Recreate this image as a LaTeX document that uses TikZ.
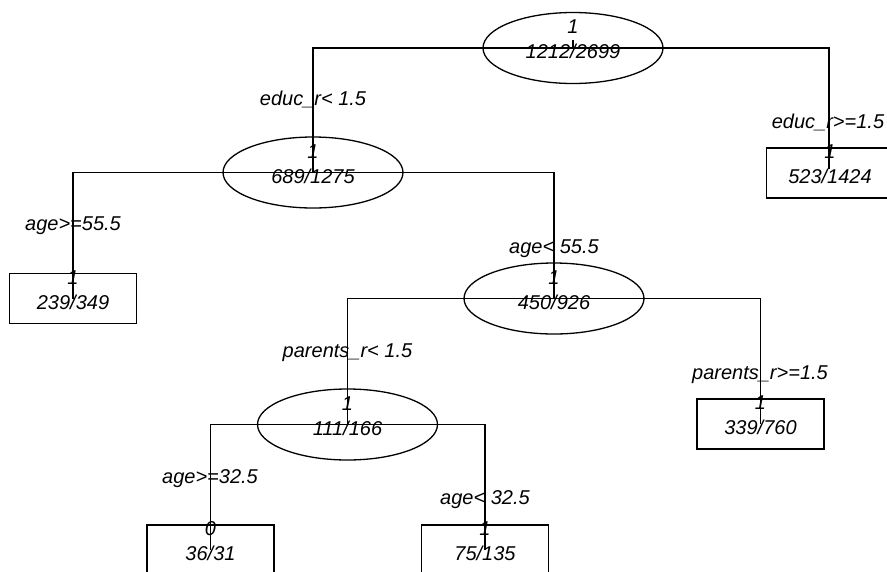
\documentclass[tikz,border=0pt]{standalone}
\usepackage{fontspec}
\setmainfont{Liberation Sans}
\usetikzlibrary{shapes.geometric,calc}
\begin{document}
\begin{tikzpicture}[x=1pt,y=-1pt,
  line width=1.3pt,
  ell/.style={draw,ellipse,inner sep=0pt,minimum width=180pt,minimum height=71pt},
  leafbox/.style={draw,rectangle,inner sep=0pt,minimum width=127pt,minimum height=50pt},
  txt/.style={inner sep=0pt,text height=14pt,text depth=0pt,anchor=center,
    font=\fontsize{20}{24}\selectfont\itshape},
  conn/.style={line width=1.3pt}]
\useasboundingbox (0,0) rectangle (887,571);
\fill[white] (0,0) rectangle (887,571);
\clip (0,0) rectangle (887,571);
% nodes
\node[ell] (root) at (573,48) {};
\node[ell] (n2) at (313,172.5) {};
\node[ell] (n3) at (554,298.5) {};
\node[ell] (n4) at (347.5,424.5) {};
\node[leafbox] (lR) at (830,173) {};
\node[leafbox] (lA) at (73,298.5) {};
\node[leafbox] (lP) at (760.5,424) {};
\node[leafbox] (lB1) at (210.5,550) {};
\node[leafbox] (lB2) at (485,550) {};
% node texts
\node[txt] (root-c) at ($(root.center)+(0,-21.5)$) {1};
\node[txt] (root-v) at ($(root.center)+(0,3.5)$) {1212/2699};
\node[txt] (n2-c) at ($(n2.center)+(0,-21.5)$) {1};
\node[txt] (n2-v) at ($(n2.center)+(0,3.5)$) {689/1275};
\node[txt] (n3-c) at ($(n3.center)+(0,-21.5)$) {1};
\node[txt] (n3-v) at ($(n3.center)+(0,3.5)$) {450/926};
\node[txt] (n4-c) at ($(n4.center)+(0,-21.5)$) {1};
\node[txt] (n4-v) at ($(n4.center)+(0,3.5)$) {111/166};
\node[txt] (lR-c) at ($(lR.center)+(0,-21.5)$) {1};
\node[txt] (lR-v) at ($(lR.center)+(0,3.5)$) {523/1424};
\node[txt] (lA-c) at ($(lA.center)+(0,-21.5)$) {1};
\node[txt] (lA-v) at ($(lA.center)+(0,3.5)$) {239/349};
\node[txt] (lP-c) at ($(lP.center)+(0,-21.5)$) {1};
\node[txt] (lP-v) at ($(lP.center)+(0,3.5)$) {339/760};
\node[txt] (lB1-c) at ($(lB1.center)+(0,-21.5)$) {0};
\node[txt] (lB1-v) at ($(lB1.center)+(0,3.5)$) {36/31};
\node[txt] (lB2-c) at ($(lB2.center)+(0,-21.5)$) {1};
\node[txt] (lB2-v) at ($(lB2.center)+(0,3.5)$) {75/135};
% connectors
\coordinate (rootstub) at ($(root.center)+(0,-8)$);
\draw[conn] (rootstub) -- (root.center);
\draw[conn] (root.center) -| (n2.center);
\draw[conn] (root.center) -| ($(lR.center)+(-1,-4)$);
\draw[conn] (n2.center) -| (lA.center);
\draw[conn] (n2.center) -| (n3.center);
\draw[conn] (n3.center) -| (n4.center);
\draw[conn] (n3.center) -| (lP.center);
\draw[conn] (n4.center) -| (lB1.center);
\draw[conn] (n4.center) -| (lB2.center);
% edge labels
\node[txt] (e1) at (313,98) {educ\_r< 1.5};
\node[txt] (e2) at (828,121) {educ\_r>=1.5};
\node[txt] (e3) at (73,223) {age>=55.5};
\node[txt] (e4) at (554,246) {age< 55.5};
\node[txt] (e5) at (347.5,350) {parents\_r< 1.5};
\node[txt] (e6) at (760,372) {parents\_r>=1.5};
\node[txt] (e7) at (210,476) {age>=32.5};
\node[txt] (e8) at (485,497) {age< 32.5};
\end{tikzpicture}
\end{document}
